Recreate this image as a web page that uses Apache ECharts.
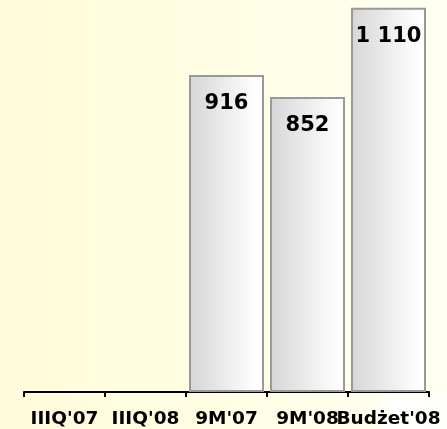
<!DOCTYPE html>
<html>
<head>
<meta charset="utf-8">
<script src="https://cdn.jsdelivr.net/npm/echarts@6/dist/echarts.min.js"></script>
<style>
html,body{margin:0;padding:0;background:#fffde0;}
#c{width:447px;height:429px;}
</style>
</head>
<body>
<div id="c"></div>
<script>
var categories = ["IIIQ'07", "IIIQ'08", "9M'07", "9M'08", "Budżet'08"];
var values = [null, null, 916, 852, 1110];

function fmt(v) {
  return String(v).replace(/\B(?=(\d{3})+(?!\d))/g, ' ');
}

var chart = echarts.init(document.getElementById('c'), null, {renderer: 'canvas'});
chart.setOption({
  animation: false,
  backgroundColor: {
    type: 'linear', x: 0, y: 0, x2: 1, y2: 0,
    colorStops: [
      {offset: 0, color: '#fffbda'},
      {offset: 0.4, color: '#fffee2'},
      {offset: 1, color: '#fffff0'}
    ]
  },
  graphic: [{
    type: 'rect',
    left: 365, top: 395,
    shape: {width: 82, height: 34},
    style: {
      fill: {
        type: 'linear', x: 0, y: 0, x2: 1, y2: 0,
        colorStops: [
          {offset: 0, color: 'rgba(255,255,255,0)'},
          {offset: 0.4, color: 'rgba(255,255,255,0.9)'},
          {offset: 1, color: 'rgba(255,255,255,0.6)'}
        ]
      }
    },
    z: -1
  }],
  grid: {left: 24, right: 18, top: 6, bottom: 37, containLabel: false},
  xAxis: {
    type: 'category',
    data: categories,
    axisLine: {show: true, lineStyle: {color: '#000', width: 2}},
    axisTick: {show: true, length: 5, lineStyle: {color: '#000', width: 2}},
    axisLabel: {
      color: '#000', fontFamily: 'DejaVu Sans', fontWeight: 'bold',
      fontSize: 18.5, margin: 18, interval: 0
    }
  },
  yAxis: {
    type: 'value', min: 0, max: 1115, show: false,
    splitLine: {show: false}
  },
  series: [{
    type: 'bar',
    data: values,
    barWidth: 75,
    itemStyle: {
      color: {
        type: 'linear', x: 0, y: 0, x2: 1, y2: 0,
        colorStops: [
          {offset: 0, color: '#d6d6d6'},
          {offset: 0.85, color: '#fcfcfc'},
          {offset: 1, color: '#ffffff'}
        ]
      },
      borderColor: '#999999',
      borderWidth: 2
    },
    label: {
      show: true,
      position: 'insideTop',
      distance: 18,
      color: '#000',
      fontFamily: 'DejaVu Sans',
      fontWeight: 'bold',
      fontSize: 21,
      formatter: function (p) { return fmt(p.value); }
    }
  }]
});
</script>
</body>
</html>
